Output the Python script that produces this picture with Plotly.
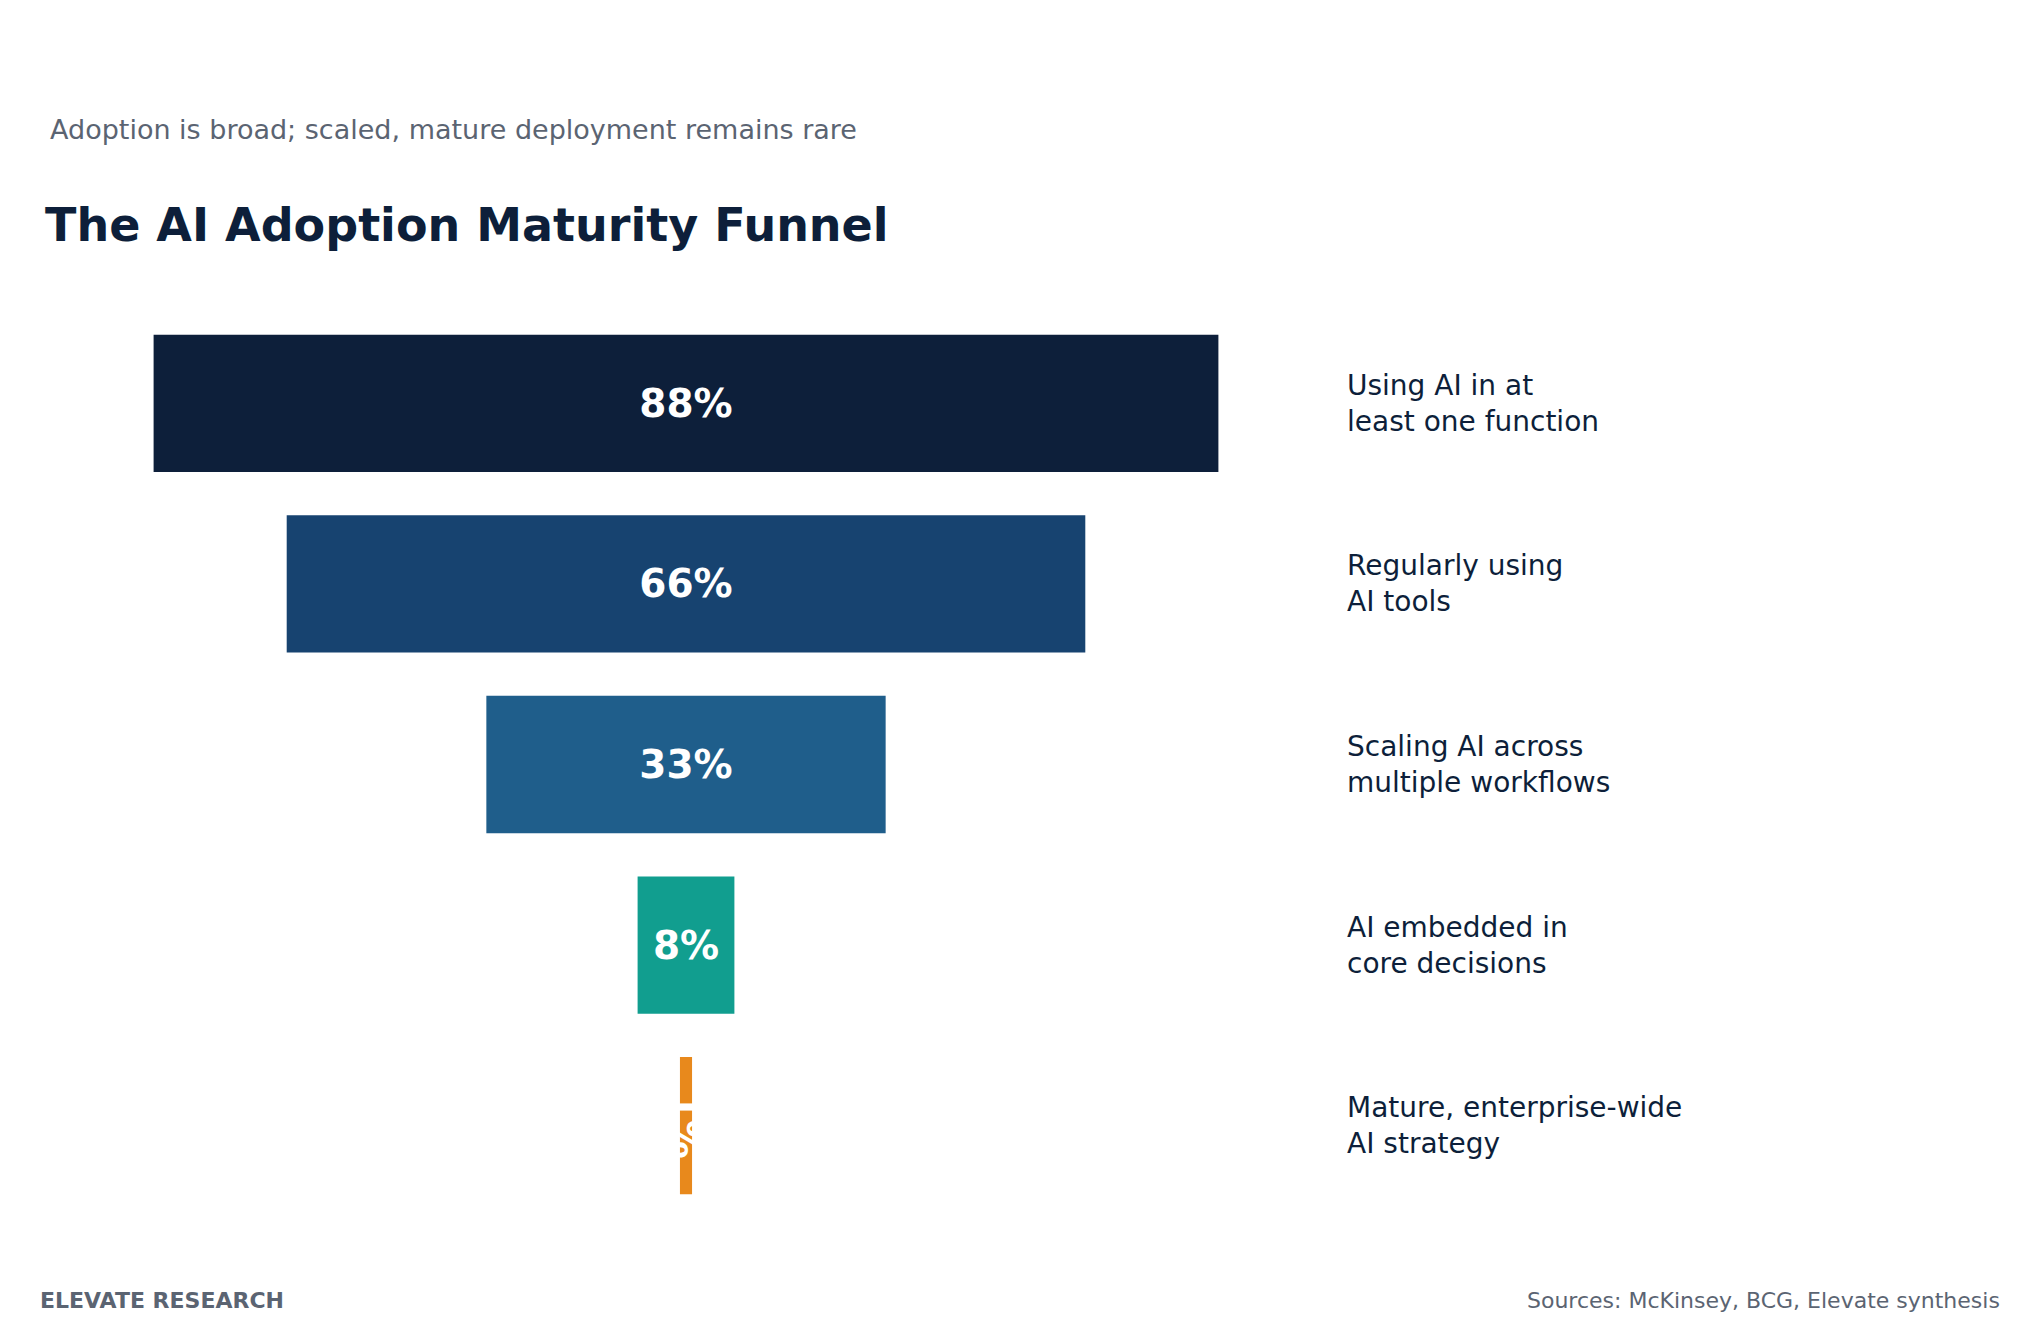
import plotly.graph_objects as go

stages = ["Using AI in at<br>least one function", "Regularly using<br>AI tools",
          "Scaling AI across<br>multiple workflows", "AI embedded in<br>core decisions",
          "Mature, enterprise-wide<br>AI strategy"]
values = [88, 66, 33, 8, 1]
colors = ["#0d1f3a", "#174370", "#1f5e8b", "#119e8f", "#e8891c"]

W, H = 2023, 1320
L, R, T, B = 73, 740, 305, 112
pw, ph = W - L - R, H - T - B


def px(x):
    return (x - L) / pw


def py(y):
    return (H - B - y) / ph


fig = go.Figure(go.Bar(
    y=list(range(len(values))), x=values, base=[-v / 2 for v in values],
    orientation="h", marker=dict(color=colors, line=dict(width=0)),
    text=[f"{v}%" for v in values], textposition="inside", insidetextanchor="middle",
    textfont=dict(family="DejaVu Sans", size=39, color="white", weight="bold"),
    hoverinfo="skip",
))

for i, s in enumerate(stages):
    fig.add_annotation(x=px(1337), xref="paper", y=i, yref="y", text=s, showarrow=False,
                       xanchor="left", align="left",
                       font=dict(family="DejaVu Sans", size=28, color="#0d1f3a"))

fig.add_annotation(x=px(40), xref="paper", y=py(122), yref="paper", yanchor="middle",
                   xanchor="left", showarrow=False,
                   text="Adoption is broad; scaled, mature deployment remains rare",
                   font=dict(family="DejaVu Sans", size=27, color="#5b6472"))
fig.add_annotation(x=px(35), xref="paper", y=py(217), yref="paper", yanchor="middle",
                   xanchor="left", showarrow=False, text="<b>The AI Adoption Maturity Funnel</b>",
                   font=dict(family="DejaVu Sans", size=46, color="#0d1f3a"))
fig.add_annotation(x=px(30), xref="paper", y=py(1292), yref="paper", yanchor="middle",
                   xanchor="left", showarrow=False, text="<b>ELEVATE RESEARCH</b>",
                   font=dict(family="DejaVu Sans", size=22, color="#5b6472"))
fig.add_annotation(x=px(1994), xref="paper", y=py(1292), yref="paper", yanchor="middle",
                   xanchor="right", showarrow=False, text="Sources: McKinsey, BCG, Elevate synthesis",
                   font=dict(family="DejaVu Sans", size=22, color="#5b6472"))

fig.update_layout(
    width=W, height=H, plot_bgcolor="white", paper_bgcolor="white",
    margin=dict(l=L, r=R, t=T, b=B), showlegend=False, bargap=0.24,
    uniformtext=dict(mode="show", minsize=39),
    xaxis=dict(range=[-50, 50], visible=False),
    yaxis=dict(range=[4.5, -0.5], visible=False),
)
fig.write_html("out.html")
